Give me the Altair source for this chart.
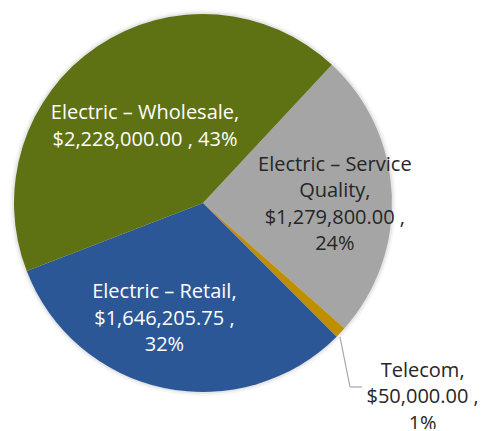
import math
import altair as alt
import pandas as pd

# ---- data (clockwise order starting at the Wholesale / Service Quality boundary) ----
categories = ["Electric – Service Quality", "Telecom", "Electric – Retail", "Electric – Wholesale"]
values = [1279800.00, 50000.00, 1646205.75, 2228000.00]
percent_labels = ["24%", "1%", "32%", "43%"]
label_texts = [
    "Electric – Service\nQuality,\n$1,279,800.00 ,\n24%",
    "Telecom,\n$50,000.00 ,\n1%",
    "Electric – Retail,\n$1,646,205.75 ,\n32%",
    "Electric – Wholesale,\n$2,228,000.00 , 43%",
]
colors = ["#A5A5A5", "#BF8F00", "#2C5797", "#5E7113"]

df = pd.DataFrame({
    "cat": categories,
    "value": values,
    "idx": list(range(len(categories))),
    "label": label_texts,
})

start = math.radians(43)
theta_scale = alt.Scale(range=[start, start + 2 * math.pi])
color_scale = alt.Scale(domain=categories, range=colors)

base = alt.Chart(df)

shadow_outer = base.mark_arc(radius=193, color="#000000", opacity=0.035).encode(
    theta=alt.Theta("value:Q", stack=True, scale=theta_scale),
    order=alt.Order("idx:Q"),
)
shadow_inner = base.mark_arc(radius=191, color="#000000", opacity=0.06).encode(
    theta=alt.Theta("value:Q", stack=True, scale=theta_scale),
    order=alt.Order("idx:Q"),
)

pie = base.mark_arc(radius=189).encode(
    theta=alt.Theta("value:Q", stack=True, scale=theta_scale),
    order=alt.Order("idx:Q"),
    color=alt.Color("cat:N", scale=color_scale, legend=None),
)

mid_base = base.transform_window(
    cum="sum(value)", sort=[alt.SortField("idx")], frame=[None, 0]
).transform_calculate(mid="datum.cum - datum.value / 2")


def label_layer(cat, radius, dx, dy, color):
    return mid_base.transform_filter(alt.datum.cat == cat).mark_text(
        radius=radius, dx=dx, dy=dy, lineBreak="\n", lineHeight=26.5,
        font="Open Sans", fontSize=20, color=color, align="center", baseline="middle",
    ).encode(
        theta=alt.Theta("mid:Q", stack=None, scale=theta_scale),
        text="label:N",
    )

labels = [
    label_layer("Electric – Service Quality", 132, 0, -32, "#262626"),
    label_layer("Telecom", 189, 82, 38, "#262626"),
    label_layer("Electric – Retail", 119, -14, -27, "#FFFFFF"),
    label_layer("Electric – Wholesale", 100, -2, -7, "#FFFFFF"),
]

leader1 = alt.Chart(df.head(1)).mark_rule(color="#A6A6A6", strokeWidth=1.2).encode(
    x=alt.value(332), x2=alt.value(342), y=alt.value(329), y2=alt.value(379)
)
leader2 = alt.Chart(df.head(1)).mark_rule(color="#A6A6A6", strokeWidth=1.2).encode(
    x=alt.value(342), x2=alt.value(354), y=alt.value(379), y2=alt.value(379)
)

chart = alt.layer(shadow_outer, shadow_inner, pie, leader1, leader2, *labels).properties(
    width=390, height=390,
    padding={"left": 0, "top": 0, "right": 79, "bottom": 31},
    autosize=alt.AutoSizeParams(type="none"),
).configure_view(stroke=None)

chart.save("out.html", embed_options={"renderer": "svg", "actions": False})
